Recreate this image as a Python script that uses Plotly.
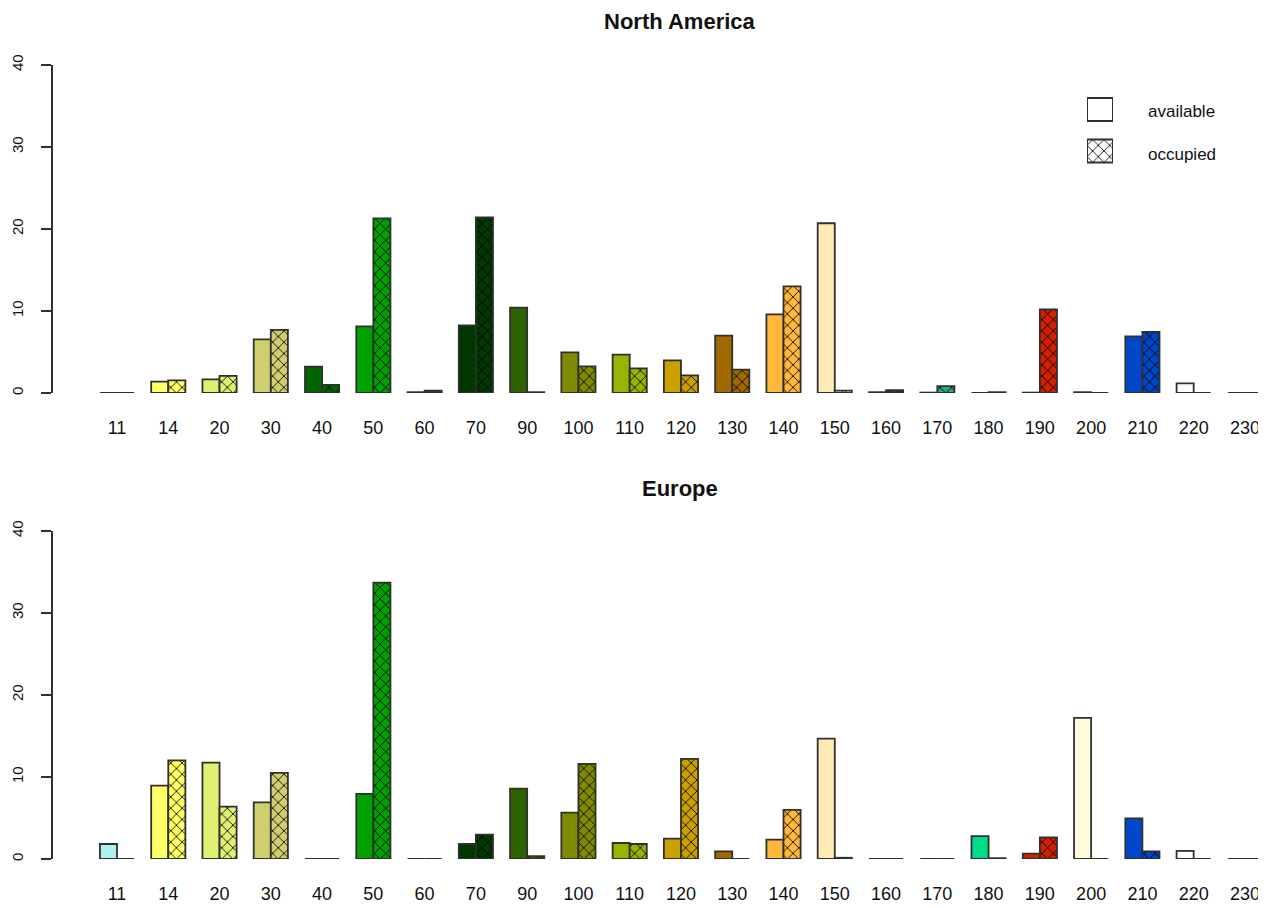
import plotly.graph_objects as go

categories = ["11", "14", "20", "30", "40", "50", "60", "70", "90", "100", "110",
              "120", "130", "140", "150", "160", "170", "180", "190", "200", "210",
              "220", "230"]

category_colors = ["#B0F0F0", "#FFFF66", "#E0F070", "#D0CF70", "#006400", "#00A000",
                   "#1E5A1E", "#003800", "#2E6400", "#7F8A00", "#98B400", "#C9A000",
                   "#A06A00", "#FFB83C", "#FFECB4", "#0E5030", "#30A882", "#00DC88",
                   "#D02000", "#FFFADC", "#0046C8", "#FFFFFF", "#555555"]

na_available = [0, 1.38, 1.67, 6.55, 3.2, 8.13, 0.1, 8.25, 10.4, 4.96, 4.67, 3.98,
                7.0, 9.6, 20.7, 0.1, 0.05, 0, 0.05, 0.1, 6.9, 1.18, 0]
na_occupied = [0, 1.55, 2.1, 7.7, 0.98, 21.3, 0.3, 21.4, 0.1, 3.25, 3.0, 2.15,
               2.85, 13.0, 0.3, 0.35, 0.85, 0.1, 10.2, 0, 7.45, 0, 0]
eu_available = [1.83, 8.94, 11.75, 6.9, 0, 7.93, 0, 1.83, 8.58, 5.65, 1.95, 2.48,
                0.93, 2.36, 14.67, 0, 0, 2.8, 0.65, 17.2, 4.96, 0.98, 0]
eu_occupied = [0, 12.03, 6.38, 10.5, 0, 33.7, 0, 2.97, 0.35, 11.6, 1.83, 12.2,
               0, 5.98, 0.15, 0, 0, 0.1, 2.64, 0, 0.93, 0, 0]

panel_titles = ["North America", "Europe"]
legend_labels = ["available", "occupied"]
y_ticks = [0, 10, 20, 30, 40]

# page body has an 8px margin: figure is laid out in screen pixels minus that
OFF = 8
W, H = 1266 - OFF, 908 - OFF
FONT = "Liberation Sans, Arial, sans-serif"
OUTLINE = "#303030"


def px_x(p):
    return (p - OFF) / W


def px_y(p):
    return 1 - (p - OFF) / H


fig = go.Figure()

panels = [
    (na_available, na_occupied, "x", "y"),
    (eu_available, eu_occupied, "x2", "y2"),
]
for avail, occ, xa, ya in panels:
    fig.add_trace(go.Bar(
        x=categories, y=avail, xaxis=xa, yaxis=ya, name=legend_labels[0],
        marker=dict(color=category_colors, line=dict(color=OUTLINE, width=1.8)),
        showlegend=False, hoverinfo="x+y"))
    fig.add_trace(go.Bar(
        x=categories, y=occ, xaxis=xa, yaxis=ya, name=legend_labels[1],
        marker=dict(color="#888888", line=dict(color=OUTLINE, width=1.8),
                    pattern=dict(shape="x", fgcolor="#000000",
                                 bgcolor=category_colors, size=8,
                                 solidity=0.2, fillmode="replace")),
        showlegend=False, hoverinfo="x+y"))

# legend boxes drawn on a tiny helper axis
fig.add_trace(go.Bar(
    x=[1], y=[0], orientation="h", xaxis="x3", yaxis="y3", width=0.55,
    marker=dict(color="white", line=dict(color=OUTLINE, width=2)),
    showlegend=False, hoverinfo="skip"))
fig.add_trace(go.Bar(
    x=[1], y=[1], orientation="h", xaxis="x3", yaxis="y3", width=0.55,
    marker=dict(color="white", line=dict(color=OUTLINE, width=2),
                pattern=dict(shape="x", fgcolor="#000000", bgcolor="white",
                             size=8, solidity=0.2)),
    showlegend=False, hoverinfo="skip"))

xr = [(52 - 117) / 51.27, (1266 - 117) / 51.27]
xdom = [px_x(52), 1.0]

common_x = dict(type="category", range=xr, domain=xdom, showline=False,
                showgrid=False, zeroline=False, ticks="", ticklabelstandoff=22,
                tickfont=dict(family=FONT, size=18, color="#111111"),
                automargin=False, fixedrange=True)
common_y = dict(range=[0, 40], tickvals=y_ticks, showline=True, linecolor=OUTLINE,
                linewidth=1.5, ticks="outside", ticklen=10, tickwidth=1.5,
                tickcolor=OUTLINE, tickangle=-90, showgrid=False, zeroline=False,
                ticklabelstandoff=12,
                tickfont=dict(family=FONT, size=15, color="#111111"),
                automargin=False, fixedrange=True)

fig.update_layout(
    template="none",
    width=W, height=H,
    margin=dict(l=0, r=0, t=0, b=0, pad=0),
    paper_bgcolor="white", plot_bgcolor="white",
    barmode="group", bargap=1 / 3, bargroupgap=0,
    showlegend=False,
    xaxis=dict(common_x, anchor="y"),
    yaxis=dict(common_y, anchor="free", position=px_x(52),
               domain=[px_y(393), px_y(65)]),
    xaxis2=dict(common_x, anchor="y2"),
    yaxis2=dict(common_y, anchor="free", position=px_x(52),
                domain=[px_y(859), px_y(531)]),
    xaxis3=dict(range=[0, 1], domain=[px_x(1087), px_x(1113)], visible=False,
                anchor="y3", fixedrange=True, automargin=False),
    yaxis3=dict(range=[1.5, -0.5], domain=[px_y(171.75), px_y(88.75)],
                visible=False, anchor="x3", fixedrange=True, automargin=False),
    annotations=[
        dict(text="<b>" + panel_titles[0] + "</b>", x=px_x(680), y=px_y(22),
             xref="paper", yref="paper", showarrow=False,
             font=dict(family=FONT, size=22, color="#111111"),
             xanchor="center", yanchor="middle"),
        dict(text="<b>" + panel_titles[1] + "</b>", x=px_x(680), y=px_y(488),
             xref="paper", yref="paper", showarrow=False,
             font=dict(family=FONT, size=22, color="#111111"),
             xanchor="center", yanchor="middle"),
        dict(text=legend_labels[0], x=px_x(1146), y=px_y(112),
             xref="paper", yref="paper", showarrow=False,
             font=dict(family=FONT, size=17, color="#111111"),
             xanchor="left", yanchor="middle"),
        dict(text=legend_labels[1], x=px_x(1146), y=px_y(154),
             xref="paper", yref="paper", showarrow=False,
             font=dict(family=FONT, size=17, color="#111111"),
             xanchor="left", yanchor="middle"),
    ],
)

fig.write_html("out.html")
